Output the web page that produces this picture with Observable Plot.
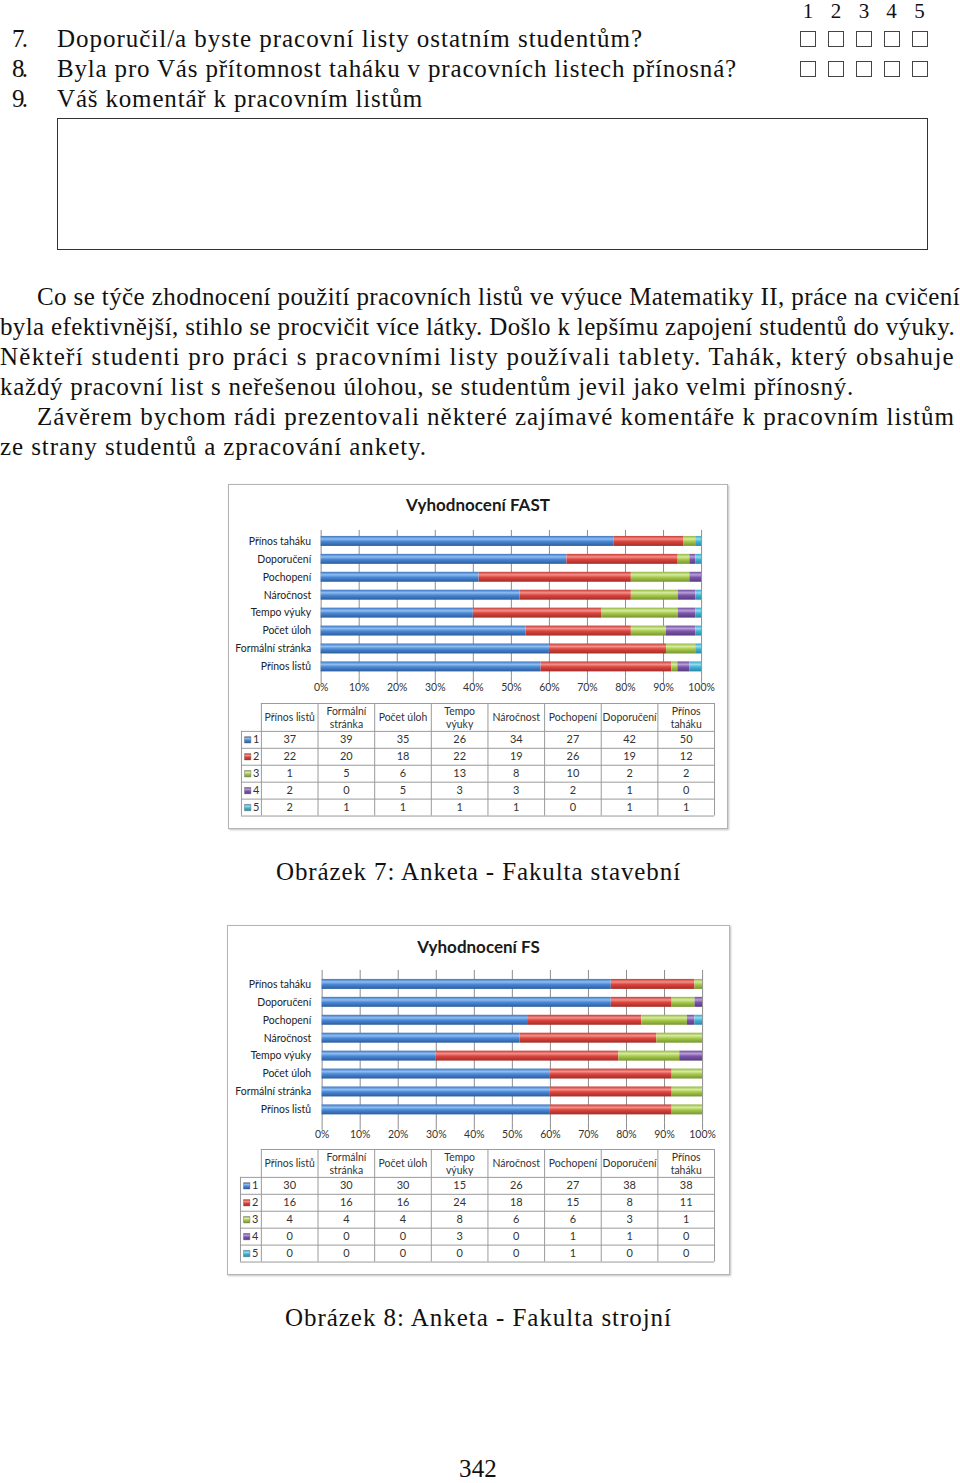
<!DOCTYPE html>
<html><head><meta charset="utf-8">
<script src="https://cdn.jsdelivr.net/npm/d3@7"></script>
<script src="https://cdn.jsdelivr.net/npm/@observablehq/plot@0.6"></script>
<style>
html,body{margin:0;padding:0;background:#fff;}
body{position:relative;width:960px;height:1483px;overflow:hidden;}
.tx{position:absolute;white-space:nowrap;font-family:"Liberation Serif","Times New Roman",serif;font-size:25px;line-height:30px;color:#111;}
.dg{position:absolute;white-space:nowrap;font-family:"Liberation Serif","Times New Roman",serif;font-size:21px;line-height:18px;top:2px;color:#111;}
.box{position:absolute;width:14px;height:14px;border:1.4px solid #444;}
.rect{position:absolute;border:1.5px solid #333;}
.frame{position:absolute;background:#fff;border:1px solid #b4b4b4;box-shadow:1px 1px 2px rgba(0,0,0,0.25);}
.ctitle{position:absolute;left:0;right:0;text-align:center;font-family:Lato,sans-serif;font-weight:bold;font-size:17px;line-height:22px;color:#1a1a1a;}
.frame svg{position:absolute;left:-1px;}
</style></head><body>
<svg width="0" height="0" style="position:absolute">
<defs>
<linearGradient id="grad1" x1="0" y1="0" x2="0" y2="1"><stop offset="0" stop-color="#3b74c2"/><stop offset="0.3" stop-color="#8ebdf0"/><stop offset="0.55" stop-color="#4a88d6"/><stop offset="1" stop-color="#2c5c9c"/></linearGradient>
<linearGradient id="grad2" x1="0" y1="0" x2="0" y2="1"><stop offset="0" stop-color="#c83a34"/><stop offset="0.3" stop-color="#f29089"/><stop offset="0.55" stop-color="#dc453e"/><stop offset="1" stop-color="#a22d28"/></linearGradient>
<linearGradient id="grad3" x1="0" y1="0" x2="0" y2="1"><stop offset="0" stop-color="#94b63e"/><stop offset="0.3" stop-color="#d6eba0"/><stop offset="0.55" stop-color="#a8ca4c"/><stop offset="1" stop-color="#76952e"/></linearGradient>
<linearGradient id="grad4" x1="0" y1="0" x2="0" y2="1"><stop offset="0" stop-color="#6e4a9c"/><stop offset="0.3" stop-color="#b89ed8"/><stop offset="0.55" stop-color="#7d56ac"/><stop offset="1" stop-color="#573a7e"/></linearGradient>
<linearGradient id="grad5" x1="0" y1="0" x2="0" y2="1"><stop offset="0" stop-color="#36a4c6"/><stop offset="0.3" stop-color="#94dcf0"/><stop offset="0.55" stop-color="#3fb6d8"/><stop offset="1" stop-color="#2a86a6"/></linearGradient>
</defs></svg>
<script>
// ---------- data ----------
const categories = ["Přínos listů","Formální stránka","Počet úloh","Tempo výuky","Náročnost","Pochopení","Doporučení","Přínos taháku"];
const headerLabels = ["Přínos listů","Formální\nstránka","Počet úloh","Tempo\nvýuky","Náročnost","Pochopení","Doporučení","Přínos\ntaháku"];
const ratings = ["1","2","3","4","5"];
const fastR1 = [37,39,35,26,34,27,42,50];
const fastR2 = [22,20,18,22,19,26,19,12];
const fastR3 = [1,5,6,13,8,10,2,2];
const fastR4 = [2,0,5,3,3,2,1,0];
const fastR5 = [2,1,1,1,1,0,1,1];
const fsR1 = [30,30,30,15,26,27,38,38];
const fsR2 = [16,16,16,24,18,15,8,11];
const fsR3 = [4,4,4,8,6,6,3,1];
const fsR4 = [0,0,0,3,0,1,1,0];
const fsR5 = [0,0,0,0,0,1,0,0];
const xTicks = [0,0.1,0.2,0.3,0.4,0.5,0.6,0.7,0.8,0.9,1];
const ratingFills = ["url(#grad1)","url(#grad2)","url(#grad3)","url(#grad4)","url(#grad5)"];

// ---------- text helpers ----------
const BASE_OFF = 23.4;
function placeText(txt, x, baseline, target, center) {
  const el = document.createElement("div");
  el.className = "tx";
  el.textContent = txt;
  el.style.top = (baseline - BASE_OFF) + "px";
  el.style.left = "0px";
  document.body.appendChild(el);
  if (target) {
    const w = el.getBoundingClientRect().width;
    const n = [...txt].length;
    el.style.letterSpacing = ((target - w) / n) + "px";
    el.style.left = (center ? x - target / 2 : x) + "px";
  } else {
    el.style.left = x + "px";
  }
  return el;
}

// top form
[["1",808],["2",836],["3",864],["4",891.5],["5",919.5]].forEach(([d,cx]) => {
  const el = document.createElement("div");
  el.className = "dg"; el.textContent = d;
  document.body.appendChild(el);
  const w = el.getBoundingClientRect().width;
  el.style.left = (cx - w/2) + "px";
});
[31, 61].forEach(top => [800,828,856,883.5,911.5].forEach(x => {
  const b = document.createElement("div"); b.className = "box";
  b.style.left = x + "px"; b.style.top = top + "px"; document.body.appendChild(b);
}));
placeText("7.", 12, 47, 13);
placeText("Doporučil/a byste pracovní listy ostatním studentům?", 57, 47, 586);
placeText("8.", 12, 77, 13);
placeText("Byla pro Vás přítomnost taháku v pracovních listech přínosná?", 57, 77, 680);
placeText("9.", 12, 107, 13);
placeText("Váš komentář k pracovním listům", 57, 107, 366);
const r = document.createElement("div"); r.className = "rect";
Object.assign(r.style, {left:"57px", top:"118px", width:"869px", height:"130px"});
document.body.appendChild(r);

// paragraph
placeText("Co se týče zhodnocení použití pracovních listů ve výuce Matematiky II, práce na cvičení", 37, 305, 923);
placeText("byla efektivnější, stihlo se procvičit více látky. Došlo k lepšímu zapojení studentů do výuky.", 0, 335, 955);
placeText("Někteří studenti pro práci s pracovními listy používali tablety. Tahák, který obsahuje", 0, 365, 955);
placeText("každý pracovní list s neřešenou úlohou, se studentům jevil jako velmi přínosný.", 0, 395, 854);
placeText("Závěrem bychom rádi prezentovali některé zajímavé komentáře k pracovním listům", 37, 425, 918);
placeText("ze strany studentů a zpracování ankety.", 0, 455, 427);

placeText("Obrázek 7: Anketa - Fakulta stavební", 478.5, 880, 405, true);
placeText("Obrázek 8: Anketa - Fakulta strojní", 478.5, 1326, 387, true);
placeText("342", 478, 1477, 38, true);

// ---------- charts ----------
function buildChart(cfg, series) {
  const frame = document.createElement("div");
  frame.className = "frame";
  Object.assign(frame.style, {left: cfg.left + "px", top: cfg.top + "px", width: (cfg.w - 2) + "px", height: (cfg.h - 2) + "px"});
  document.body.appendChild(frame);
  const t = document.createElement("div");
  t.className = "ctitle"; t.textContent = cfg.title;
  t.style.top = (cfg.titleY - 12) + "px";
  frame.appendChild(t);

  const data = categories.flatMap((c, i) => ratings.map((rt, j) => ({category: c, rating: rt, count: series[j][i]})));
  const bars = Plot.plot({
    width: cfg.w, height: cfg.barH,
    marginLeft: cfg.mL, marginRight: cfg.mR, marginTop: 8, marginBottom: 22,
    style: {fontFamily: "Lato, sans-serif", fontSize: "10.5px", color: "#333", background: "transparent", overflow: "visible"},
    x: {domain: [0, 1], label: null},
    y: {domain: [...categories].reverse(), label: null, paddingInner: cfg.pi, paddingOuter: cfg.po},
    color: {domain: ratings, range: ratingFills},
    marks: [
      Plot.ruleX(xTicks, {stroke: "#8c8c8c", strokeWidth: 1}),
      Plot.barX(data, Plot.stackX({x: "count", y: "category", fill: "rating", offset: "normalize"})),
      Plot.axisX({ticks: xTicks, tickFormat: d3.format(".0%"), tickSize: 7, tickPadding: 0, stroke: "#8c8c8c", fill: "#333", fontSize: 10.5, label: null}),
      Plot.axisY({tickSize: 0, tickPadding: cfg.yPad, fill: "#222", fontSize: 10.5, label: null})
    ]
  });
  bars.style.top = (cfg.barTop - 1) + "px";
  frame.appendChild(bars);

  const keyW = cfg.keyW, headH = 28 / 17;
  const cells = categories.flatMap((c, i) => ratings.map((rt, j) => ({col: i, row: j, value: series[j][i]})));
  const tbl = Plot.plot({
    width: cfg.w, height: 115,
    marginLeft: cfg.tL, marginRight: cfg.tR, marginTop: 1, marginBottom: 1,
    style: {fontFamily: "Lato, sans-serif", fontSize: "10.5px", color: "#333", background: "transparent", overflow: "visible"},
    x: {domain: [-keyW, 8], axis: null},
    y: {domain: [5, -headH], axis: null},
    color: {domain: ratings, range: ratingFills},
    marks: [
      Plot.ruleY(d3.range(6), {y: d => d, x1: -keyW, x2: 8, stroke: "#9a9a9a"}),
      Plot.ruleY([-headH], {y: d => d, x1: 0, x2: 8, stroke: "#9a9a9a"}),
      Plot.ruleX(d3.range(9), {x: d => d, y1: -headH, y2: 5, stroke: "#9a9a9a"}),
      Plot.ruleX([-keyW], {x: d => d, y1: 0, y2: 5, stroke: "#9a9a9a"}),
      Plot.text(headerLabels, {x: (d, i) => i + 0.5, y: -headH / 2, text: d => d, lineHeight: 1.2, fontSize: 10.5, fill: "#333"}),
      Plot.text(cells, {x: d => d.col + 0.5, y: d => d.row + 0.5, text: d => String(d.value), fontSize: 11, fill: "#333"}),
      Plot.dot(ratings, {x: -keyW + 0.11, y: (d, i) => i + 0.5, symbol: "square", r: 3.6, fill: d => d, stroke: "#555", strokeWidth: 0.4}),
      Plot.text(ratings, {x: -keyW + 0.26, y: (d, i) => i + 0.5, text: d => d, fontSize: 11, fill: "#333"})
    ]
  });
  tbl.style.top = (cfg.tblTop - 1) + "px";
  frame.appendChild(tbl);
}

buildChart({title: "Vyhodnocení FAST", left: 228, top: 484, w: 500, h: 345, titleY: 21,
  barTop: 38, barH: 177, mL: 93, mR: 25, pi: 0.45, po: 0.275, yPad: 10,
  tblTop: 218, tL: 13, tR: 12, keyW: 0.352},
  [fastR1, fastR2, fastR3, fastR4, fastR5]);

buildChart({title: "Vyhodnocení FS", left: 227, top: 925, w: 503, h: 350, titleY: 22,
  barTop: 37, barH: 183.4, mL: 95, mR: 26, pi: 0.46, po: 0.36, yPad: 11,
  tblTop: 223, tL: 13, tR: 14, keyW: 0.369},
  [fsR1, fsR2, fsR3, fsR4, fsR5]);
</script>
</body></html>
